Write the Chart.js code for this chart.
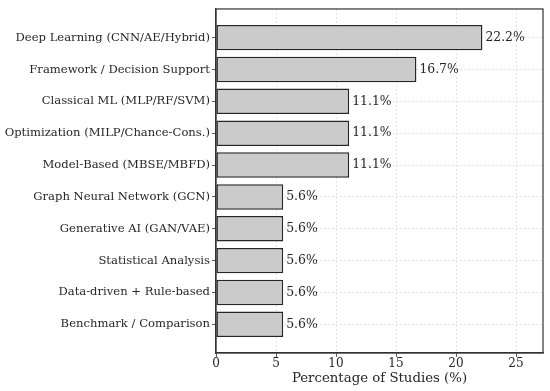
<!DOCTYPE html>
<html>
<head>
<meta charset="utf-8">
<script src="https://cdn.jsdelivr.net/npm/chart.js@4"></script>
<style>
html,body{margin:0;padding:0;background:#fff;}
#wrap{width:550px;height:391px;}
</style>
</head>
<body>
<div id="wrap"><canvas id="c" width="550" height="391"></canvas></div>
<script>
const categories = [
  "Deep Learning (CNN/AE/Hybrid)",
  "Framework / Decision Support",
  "Classical ML (MLP/RF/SVM)",
  "Optimization (MILP/Chance-Cons.)",
  "Model-Based (MBSE/MBFD)",
  "Graph Neural Network (GCN)",
  "Generative AI (GAN/VAE)",
  "Statistical Analysis",
  "Data-driven + Rule-based",
  "Benchmark / Comparison"
];
const percentages = [22.2, 16.7, 11.1, 11.1, 11.1, 5.6, 5.6, 5.6, 5.6, 5.6];
const xTicks = [0, 5, 10, 15, 20, 25];
const xTitle = "Percentage of Studies (%)";

const FONT = "'DejaVu Serif', serif";
const TXT = '#262626';

const valueLabels = {
  id: 'valueLabels',
  afterDatasetsDraw(chart) {
    const ctx = chart.ctx;
    const meta = chart.getDatasetMeta(0);
    ctx.save();
    ctx.font = "12.4px " + FONT;
    ctx.fillStyle = TXT;
    ctx.textAlign = 'left';
    ctx.textBaseline = 'middle';
    meta.data.forEach((bar, i) => {
      ctx.fillText(percentages[i].toFixed(1) + '%', bar.x + 3, bar.y);
    });
    ctx.restore();
  }
};
const frame = {
  id: 'frame',
  afterDraw(chart) {
    const a = chart.chartArea, ctx = chart.ctx;
    ctx.save();
    ctx.strokeStyle = '#333';
    ctx.lineWidth = 1.2;
    ctx.strokeRect(a.left, a.top, a.right - a.left, a.bottom - a.top);
    ctx.restore();
  }
};

new Chart(document.getElementById('c'), {
  type: 'bar',
  data: {
    datasets: [{
      data: percentages.map((v, i) => ({ x: v, y: i })),
      backgroundColor: '#cbcbcb',
      borderColor: '#262626',
      borderWidth: 1.5,
      borderSkipped: false,
      categoryPercentage: 1,
      barPercentage: 0.8
    }]
  },
  options: {
    indexAxis: 'y',
    responsive: false,
    animation: false,
    layout: { padding: { top: 7, right: 7, left: 0, bottom: 0 } },
    plugins: { legend: { display: false }, tooltip: { enabled: false } },
    scales: {
      x: {
        type: 'linear',
        min: 0,
        max: 27.25,
        afterBuildTicks: s => { s.ticks = xTicks.map(v => ({ value: v })); },
        afterFit: s => { s.height = 38; },
        ticks: { font: { family: FONT, size: 12 }, color: TXT, padding: 0, maxRotation: 0 },
        grid: { offset: false, color: '#dcdcdc', tickColor: '#333', tickLength: 4, lineWidth: 0.8 },
        border: { dash: [2, 2], color: '#333', width: 1.2 },
        title: { display: true, text: xTitle, font: { family: FONT, size: 13.3 }, color: TXT, padding: { top: 1, bottom: 4 } }
      },
      y: {
        type: 'linear',
        offset: false,
        min: -0.9,
        max: 9.9,
        reverse: true,
        afterBuildTicks: s => { s.ticks = categories.map((c, i) => ({ value: i })); },
        afterFit: s => { s.width = 216; },
        ticks: {
          font: { family: FONT, size: 11.6 }, color: TXT, padding: 2,
          callback: v => categories[v]
        },
        grid: { offset: false, color: '#dcdcdc', tickColor: '#333', tickLength: 4, lineWidth: 0.8 },
        border: { dash: [2, 2], color: '#333', width: 1.2 }
      }
    }
  },
  plugins: [valueLabels, frame]
});
</script>
</body>
</html>
